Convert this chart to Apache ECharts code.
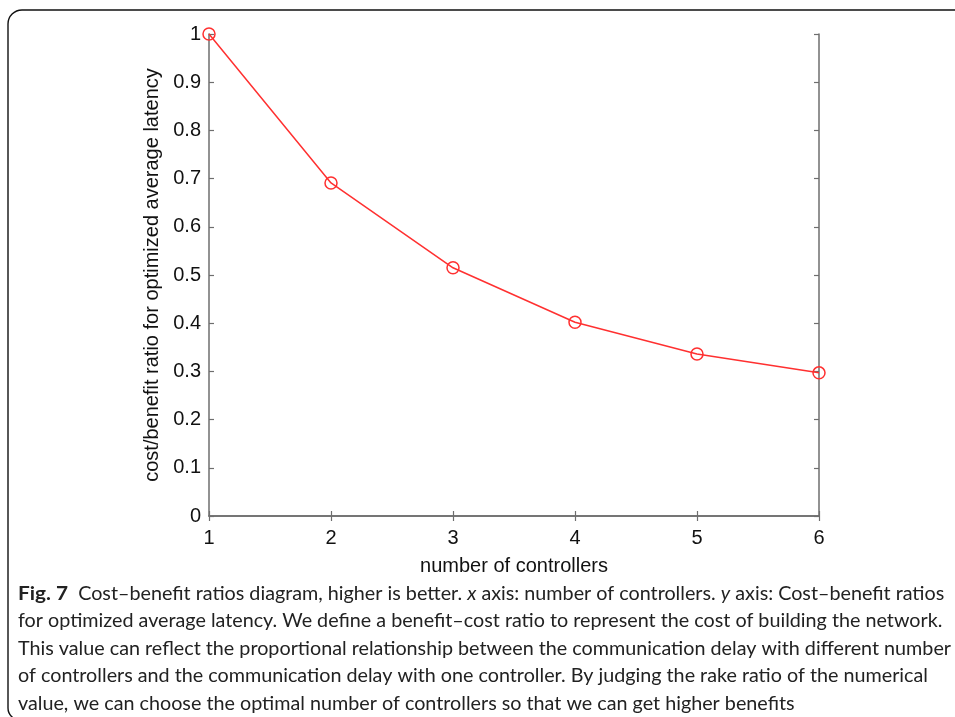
<!DOCTYPE html>
<html><head><meta charset="utf-8">
<script src="https://cdn.jsdelivr.net/npm/echarts@6/dist/echarts.min.js"></script>
<style>html,body{margin:0;padding:0;background:#fff}#c{width:955px;height:717px}</style>
</head><body><div id="c"></div>
<script>
const controllers = [1, 2, 3, 4, 5, 6];
const ratios = [1.0, 0.691, 0.515, 0.402, 0.336, 0.297];
const xName = 'number of controllers';
const yName = 'cost/benefit ratio for optimized average latency';
const captionLines = [
  ['Fig. 7', '  Cost–benefit ratios diagram, higher is better. ', 'x', ' axis: number of controllers. ', 'y', ' axis: Cost–benefit ratios'],
  'for optimized average latency. We define a benefit–cost ratio to represent the cost of building the network.',
  'This value can reflect the proportional relationship between the communication delay with different number',
  'of controllers and the communication delay with one controller. By judging the rake ratio of the numerical',
  'value, we can choose the optimal number of controllers so that we can get higher benefits'
];

const chart = echarts.init(document.getElementById('c'), null, {renderer: 'canvas'});
const axisCol = '#6e6e6e';
const labFont = 'Liberation Sans';
const capFont = 'Lato';
const capSize = 18.5;
// horizontal scaling of caption font to match the reference line widths
const mc = document.createElement('canvas').getContext('2d');
mc.font = capSize + 'px ' + capFont;
const capScale = 933 / mc.measureText(captionLines[2]).width;

const graphics = [{
  type: 'rect', shape: {x: 8, y: 10, width: 1100, height: 710, r: [14, 0, 0, 12]},
  style: {fill: 'none', stroke: '#111', lineWidth: 1.4}, z: 0
}];
const capY = [594, 621, 649, 676, 704];
captionLines.forEach((ln, i) => {
  let txt, rich = {};
  if (Array.isArray(ln)) {
    txt = '{b|' + ln[0] + '}' + ln[1] + '{i|' + ln[2] + '}' + ln[3] + '{i|' + ln[4] + '}' + ln[5];
    rich = {b: {fontWeight: 'bold', fontSize: capSize + 1, fontFamily: capFont, fill: '#222'},
            i: {fontStyle: 'italic', fontSize: capSize, fontFamily: capFont, fill: '#222'}};
  } else txt = ln;
  graphics.push({type: 'text', x: 18, y: capY[i], scaleX: capScale, scaleY: 1,
    style: {text: txt, rich: rich, fontSize: capSize, fontFamily: capFont, fill: '#222',
            verticalAlign: 'middle', align: 'left'}});
});

chart.setOption({
  animation: false,
  grid: {left: 209, right: 136, top: 34, bottom: 201},
  xAxis: [{
    type: 'value', min: 1, max: 6, interval: 1, position: 'bottom',
    name: xName, nameLocation: 'middle', nameGap: 40,
    nameTextStyle: {fontSize: 20, color: '#111', fontFamily: labFont},
    axisLine: {lineStyle: {color: axisCol, width: 1.5}},
    axisTick: {inside: true, length: 5, lineStyle: {color: axisCol, width: 1.2}},
    axisLabel: {fontSize: 20, color: '#111', margin: 12, fontFamily: labFont},
    splitLine: {show: false}
  }, {
    type: 'value', min: 1, max: 6, interval: 1, position: 'top',
    axisLine: {lineStyle: {color: axisCol, width: 1.5}},
    axisTick: {inside: true, length: 5, lineStyle: {color: axisCol, width: 1.2}},
    axisLabel: {show: false}, splitLine: {show: false}
  }],
  yAxis: [{
    type: 'value', min: 0, max: 1, interval: 0.1, position: 'left',
    name: yName, nameLocation: 'middle', nameGap: 40,
    nameTextStyle: {fontSize: 20, color: '#111', fontFamily: labFont},
    axisLine: {show: true, lineStyle: {color: axisCol, width: 1.5}},
    axisTick: {show: true, inside: true, length: 5, lineStyle: {color: axisCol, width: 1.2}},
    axisLabel: {fontSize: 20, color: '#111', margin: 8, fontFamily: labFont,
      formatter: v => String(+v.toFixed(1))},
    splitLine: {show: false}
  }, {
    type: 'value', min: 0, max: 1, interval: 0.1, position: 'right',
    axisLine: {show: true, lineStyle: {color: axisCol, width: 1.5}},
    axisTick: {show: true, inside: true, length: 5, lineStyle: {color: axisCol, width: 1.2}},
    axisLabel: {show: false}, splitLine: {show: false}
  }],
  series: [{
    type: 'line', xAxisIndex: 0, yAxisIndex: 0,
    data: controllers.map((c, i) => [c, ratios[i]]),
    symbol: 'circle', symbolSize: 12, showAllSymbol: true,
    lineStyle: {color: '#ff3030', width: 1.5},
    itemStyle: {color: 'rgba(255,255,255,0)', borderColor: '#ff3030', borderWidth: 1.5},
    clip: false, z: 5
  }],
  graphic: graphics
});
</script></body></html>
